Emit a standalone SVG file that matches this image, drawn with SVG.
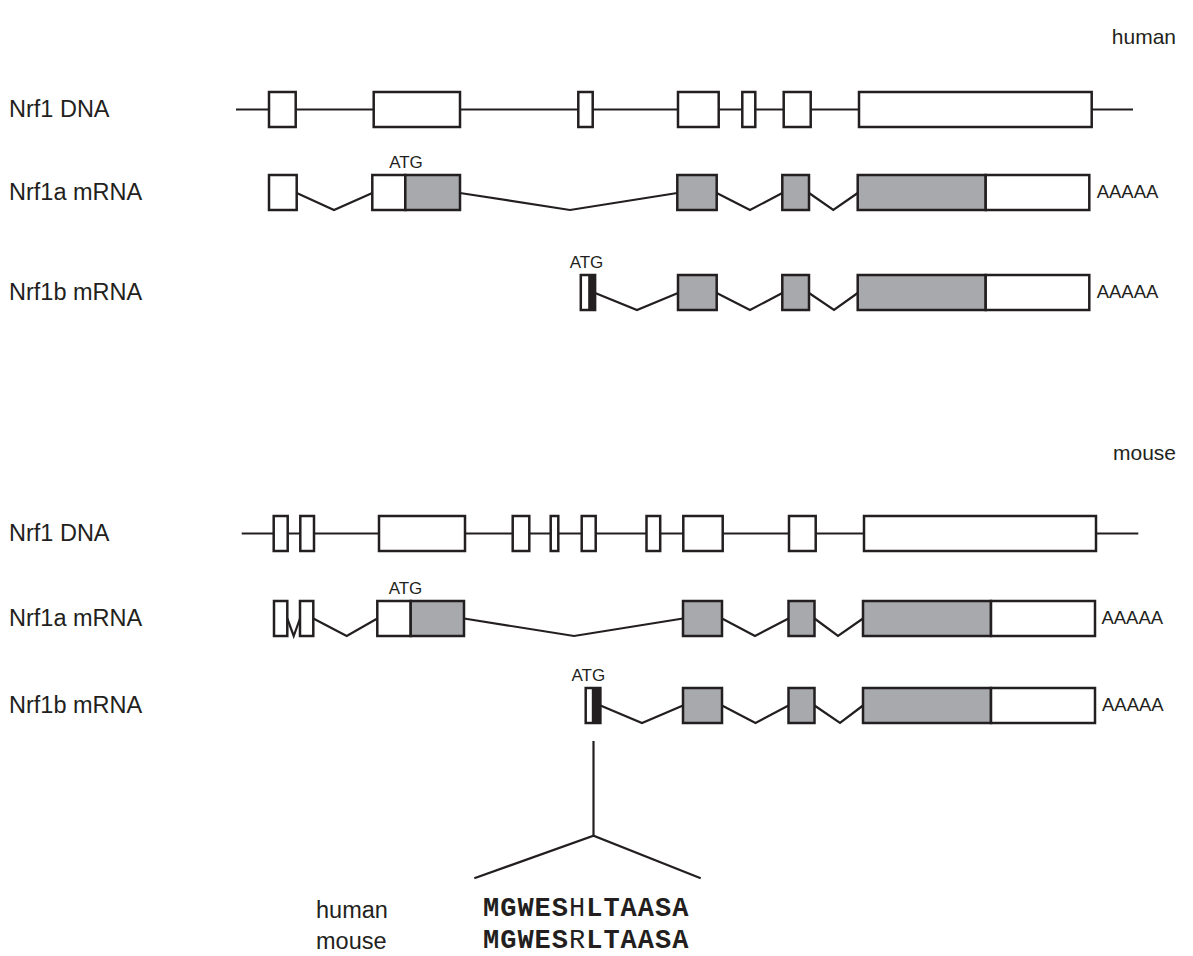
<svg xmlns="http://www.w3.org/2000/svg" width="1193" height="956" viewBox="0 0 1193 956">
<style>
.ex{fill:#fff;stroke:#231f20;stroke-width:2.5}
.cd{fill:#a7a9ac;stroke:#231f20;stroke-width:2.5}
.blk{fill:#231f20}
.ln{fill:none;stroke:#231f20;stroke-width:2.2}
text{font-family:"Liberation Sans",Arial,Helvetica,sans-serif;fill:#231f20}
.lbl{font-size:23.5px}
.sp{font-size:21px}
.atg{font-size:17px}
.pa{font-size:18.5px}
.seq{font-family:"Liberation Mono","Courier New",monospace;font-size:27px;letter-spacing:1px}
.b{font-weight:bold}
</style>
<g id="labels">
<text class="sp" x="1176" y="44" text-anchor="end">human</text>
<text class="sp" x="1176" y="460" text-anchor="end">mouse</text>
<text class="lbl" x="9" y="116.5">Nrf1 DNA</text>
<text class="lbl" x="9" y="199.5">Nrf1a mRNA</text>
<text class="lbl" x="9" y="299.5">Nrf1b mRNA</text>
<text class="lbl" x="9" y="540.5">Nrf1 DNA</text>
<text class="lbl" x="9" y="625.5">Nrf1a mRNA</text>
<text class="lbl" x="9" y="712.5">Nrf1b mRNA</text>
</g>
<g id="connectors">
<line class="ln" x1="236" y1="109.5" x2="1133" y2="109.5"/>
<polyline class="ln" points="296.7,193 334,210 372.3,193"/>
<polyline class="ln" points="460,193 570,210 677.3,193"/>
<polyline class="ln" points="716.7,193 750,210 782.3,193"/>
<polyline class="ln" points="809,193 833.3,210 857.7,193"/>
<polyline class="ln" points="595.1,293 637,310 678,293"/>
<polyline class="ln" points="716.7,293 750,310 782.3,293"/>
<polyline class="ln" points="809,293 834,310 857.7,293"/>
<line class="ln" x1="241.7" y1="533.5" x2="1138.3" y2="533.5"/>
<polyline class="ln" points="287.3,618.5 293.7,636 300,618.5"/>
<polyline class="ln" points="313.3,618.5 346.7,636 377.3,618.5"/>
<polyline class="ln" points="464,618.5 574,636 683,618.5"/>
<polyline class="ln" points="722,618.5 755,636 788.5,618.5"/>
<polyline class="ln" points="814.5,618.5 838,636 863,618.5"/>
<polyline class="ln" points="600.4,705.5 642,723 683,705.5"/>
<polyline class="ln" points="722,705.5 755.5,723 788.5,705.5"/>
<polyline class="ln" points="814.5,705.5 840,723 863,705.5"/>
<line class="ln" x1="593.5" y1="741" x2="593.5" y2="835.7"/>
<polyline class="ln" points="474.3,878.3 593.5,835.7 700.7,878.3"/>
</g>
<g id="human-dna">
<rect class="ex" x="269" y="92" width="26.7" height="35"/>
<rect class="ex" x="373.7" y="92" width="86.3" height="35"/>
<rect class="ex" x="578.3" y="92" width="14.4" height="35"/>
<rect class="ex" x="678" y="92" width="40.7" height="35"/>
<rect class="ex" x="742.3" y="92" width="13" height="35"/>
<rect class="ex" x="783.7" y="92" width="27" height="35"/>
<rect class="ex" x="859" y="92" width="232.7" height="35"/>
</g>
<g id="human-nrf1a">
<rect class="ex" x="269" y="175" width="27.7" height="35"/>
<rect class="ex" x="372.3" y="175" width="33" height="35"/>
<rect class="cd" x="405.3" y="175" width="54.7" height="35"/>
<rect class="cd" x="677.3" y="175" width="39.4" height="35"/>
<rect class="cd" x="782.3" y="175" width="26.7" height="35"/>
<rect class="cd" x="857.7" y="175" width="128" height="35"/>
<rect class="ex" x="985.7" y="175" width="103.6" height="35"/>
<text class="atg" x="406" y="167.5" text-anchor="middle">ATG</text>
<text class="pa" x="1096.7" y="197.7">AAAAA</text>
</g>
<g id="human-nrf1b">
<rect class="ex" x="580.8" y="275" width="14.3" height="35"/>
<rect class="blk" x="588.2" y="275" width="7" height="35"/>
<rect class="cd" x="678" y="275" width="38.7" height="35"/>
<rect class="cd" x="782.3" y="275" width="26.7" height="35"/>
<rect class="cd" x="857.7" y="275" width="128" height="35"/>
<rect class="ex" x="985.7" y="275" width="103.6" height="35"/>
<text class="atg" x="586.5" y="268" text-anchor="middle">ATG</text>
<text class="pa" x="1096.7" y="297.7">AAAAA</text>
</g>
<g id="mouse-dna">
<rect class="ex" x="273.7" y="516" width="14" height="35"/>
<rect class="ex" x="300.3" y="516" width="13.7" height="35"/>
<rect class="ex" x="379" y="516" width="86" height="35"/>
<rect class="ex" x="512.7" y="516" width="16.6" height="35"/>
<rect class="ex" x="550.7" y="516" width="7.6" height="35"/>
<rect class="ex" x="581.7" y="516" width="14" height="35"/>
<rect class="ex" x="646.5" y="516" width="13.7" height="35"/>
<rect class="ex" x="683.3" y="516" width="39.4" height="35"/>
<rect class="ex" x="789" y="516" width="26.7" height="35"/>
<rect class="ex" x="864" y="516" width="232" height="35"/>
</g>
<g id="mouse-nrf1a">
<rect class="ex" x="274" y="601" width="13.3" height="35"/>
<rect class="ex" x="300" y="601" width="13.3" height="35"/>
<rect class="ex" x="377.3" y="601" width="33.4" height="35"/>
<rect class="cd" x="410.7" y="601" width="53.3" height="35"/>
<rect class="cd" x="683" y="601" width="39" height="35"/>
<rect class="cd" x="788.5" y="601" width="26" height="35"/>
<rect class="cd" x="863" y="601" width="128" height="35"/>
<rect class="ex" x="991" y="601" width="104" height="35"/>
<text class="atg" x="405.5" y="594" text-anchor="middle">ATG</text>
<text class="pa" x="1101.4" y="623.7">AAAAA</text>
</g>
<g id="mouse-nrf1b">
<rect class="ex" x="585.7" y="688" width="14.7" height="35"/>
<rect class="blk" x="591.8" y="688" width="8.6" height="35"/>
<rect class="cd" x="683" y="688" width="39" height="35"/>
<rect class="cd" x="788.5" y="688" width="26" height="35"/>
<rect class="cd" x="863" y="688" width="128" height="35"/>
<rect class="ex" x="991" y="688" width="104" height="35"/>
<text class="atg" x="588.4" y="681" text-anchor="middle">ATG</text>
<text class="pa" x="1102" y="710.7">AAAAA</text>
</g>
<g id="sequences">
<text class="lbl" x="316" y="918">human</text>
<text class="lbl" x="316" y="949">mouse</text>
<text class="seq" x="483" y="916"><tspan class="b">MGWES</tspan>H<tspan class="b">LTAASA</tspan></text>
<text class="seq" x="483" y="948"><tspan class="b">MGWES</tspan>R<tspan class="b">LTAASA</tspan></text>
</g>
</svg>
